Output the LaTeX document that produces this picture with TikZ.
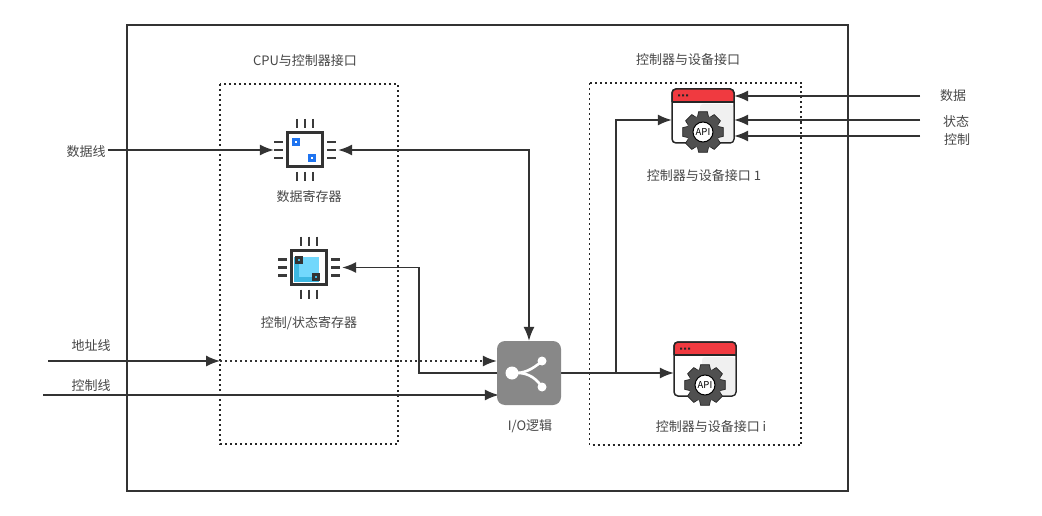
\documentclass[tikz,border=0pt]{standalone}
\usepackage{fontspec}
\setmainfont{Noto Sans CJK SC}
\usetikzlibrary{arrows.meta,calc}
\definecolor{ink}{HTML}{333333}
\definecolor{pin}{HTML}{3A3A3A}
\definecolor{ioGrey}{HTML}{888888}
\definecolor{winRed}{HTML}{F03A40}
\definecolor{chipBlue}{HTML}{1F74F0}
\definecolor{lightBlue}{HTML}{72D8FC}
\definecolor{midBlue}{HTML}{3DB8E2}
\definecolor{gearGrey}{HTML}{505050}
\tikzset{
  conn/.style={draw=ink,line width=1.5pt},
  tip/.style={-{Latex[length=14pt,width=11pt]}},
  bothtip/.style={{Latex[length=14pt,width=11pt]}-{Latex[length=14pt,width=11pt]}},
  revtip/.style={{Latex[length=14pt,width=11pt]}-},
  dotbox/.style={draw=black!85,line width=1.4pt,dash pattern=on 2pt off 3pt},
  dotline/.style={draw=ink,line width=1.5pt,dash pattern=on 2pt off 3pt},
  lbl/.style={inner sep=0pt,yshift=-1pt,font=\fontsize{13}{15}\selectfont,text=black!72},
  iconbox/.style={inner sep=0pt,minimum width=#1,minimum height=#1},
  pinline/.style={draw=pin,line width=2.4pt},
}
\newcommand{\chipframe}{%
  \foreach \d in {-8,0,8}{
    \draw[pinline] (\d,-31) -- (\d,-22);
    \draw[pinline] (\d,22) -- (\d,31);
    \draw[pinline] (-31,\d) -- (-22,\d);
    \draw[pinline] (22,\d) -- (31,\d);
  }
}
\newcommand{\geartooth}[3]{%
  \begin{scope}[shift={(#1,#2)},scale=#3]
    \foreach \a in {0,45,...,315}{
      \fill[gearGrey,draw=black!85,line width=.7pt,rotate=\a,line join=round] (-6,-13) -- (-4.4,-20.3) -- (4.4,-20.3) -- (6,-13) -- cycle;
    }
    \fill[gearGrey] (0,0) circle (16.5);
    \fill[white,draw=black,line width=1pt] (0,0) circle (10);
    \node[inner sep=0pt,text=black,font=\fontsize{9.5}{10}\selectfont] at (0,0) {API};
  \end{scope}
}
\newcommand{\windowicon}[2]{%
  \begin{scope}[shift={(#1,#2)}]
    \draw[fill=white,draw=black!85,line width=1.5pt,rounded corners=4pt] (-31,-27) rectangle (31,27);
    \fill[black!6,rounded corners=3pt] (-3,-12) -- (30,-12) -- (30,26) -- (-3,26) -- cycle;
    \fill[winRed,rounded corners=4pt] (-31,-27) -- (31,-27) -- (31,-14) -- (-31,-14) -- cycle;
    \draw[black!85,line width=1.5pt,rounded corners=4pt] (-31,-14) -- (-31,-27) -- (31,-27) -- (31,-14);
    \draw[black!85,line width=1.5pt] (-31,-14) -- (31,-14);
    \fill[black!85] (-25,-21.5) rectangle (-23,-19.5) (-21,-21.5) rectangle (-19,-19.5) (-17,-21.5) rectangle (-15,-19.5);
    \geartooth{0}{16}{1}
  \end{scope}
}
\begin{document}
\begin{tikzpicture}[x=1pt,y=-1pt]
\useasboundingbox (0,0) rectangle (1042,516);
\fill[white] (0,0) rectangle (1042,516);

% frames
\draw[draw=ink,line width=1.5pt] (127,25) rectangle (848,491);
\draw[dotbox] (220,84) rectangle (398,444);
\draw[dotbox] (589.5,83) rectangle (801,445);

% icon nodes
\node[iconbox=66pt] (chipA) at (305,150) {};
\node[iconbox=66pt] (chipB) at (309,267.5) {};
\node[inner sep=0pt,minimum width=62pt,minimum height=54pt] (winA) at (703,116) {};
\node[inner sep=0pt,minimum width=62pt,minimum height=54pt] (winB) at (705,369) {};
\node[inner sep=0pt,minimum width=64pt,minimum height=64pt] (io) at (529,373) {};

% labels
\node[lbl] (tCpu) at (305,60) {CPU与控制器接口};
\node[lbl] (tDev) at (688,59) {控制器与设备接口};
\node[lbl] (lData) at (86,151) {数据线};
\node[lbl] (lAddr) at (91,345) {地址线};
\node[lbl] (lCtrl) at (91,385) {控制线};
\node[lbl] (rData) at (953,95) {数据};
\node[lbl] (rStat) at (956,121) {状态};
\node[lbl] (rCtrl) at (957,139) {控制};
\node[lbl] (tRegA) at (309,196) {数据寄存器};
\node[lbl] (tRegB) at (309,322) {控制/状态寄存器};
\node[lbl] (tIO) at (530,425) {I/O逻辑};
\node[lbl] (tWinA) at (704,175) {控制器与设备接口 1};
\node[lbl] (tWinB) at (711,426) {控制器与设备接口 i};

% free ends
\coordinate (addrStart) at (48,361);
\coordinate (ctrlStart) at (43,395);
\coordinate (addrMid) at (220,361);
\coordinate (dataIn) at (920,96);
\coordinate (statIn) at (920,120);
\coordinate (ctrlIn) at (920,136);
\coordinate (fork) at (616,373);

% connectors
\draw[conn,tip] (lData.east) ++(2,-2) -- ($(chipA.west)+(2,0)$);
\draw[conn,bothtip] (chipA.east) -- (529,150) -- (io.north);
\draw[conn,revtip] (chipB.east) -- (419,267.5) -- (419,373) -- (io.west);
\draw[dotline] (addrMid) -- ($(io.west)+(-14,-12)$);
\draw[conn,tip] (addrStart) -- (addrMid);
\draw[conn,tip] ($(io.west)+(-14,-12)$) -- ($(io.west)+(0,-12)$);
\draw[conn,tip] (ctrlStart) -- ($(io.west)+(2,22)$);
\draw[conn,tip] (io.east) -- (winB.west |- io.east) ;
\draw[conn,tip] (fork) -- (616,120) -- (winA.west |- 0,120);
\draw[conn,tip] (dataIn) -- (winA.east |- dataIn);
\draw[conn,tip] (statIn) -- (winA.east |- statIn);
\draw[conn,tip] (ctrlIn) -- (winA.east |- ctrlIn);

% chip A
\begin{scope}[shift={(305,150)}]
  \chipframe
  \fill[white] (-19,-18) rectangle (19,18);
  \draw[draw=ink,line width=3pt] (-17.5,-17) rectangle (17.5,17);
  \fill[chipBlue] (-13.5,-11.5) rectangle (-5,-3.5);
  \fill[chipBlue] (3,4.5) rectangle (11,12.5);
  \fill[white] (-10,-8.5) rectangle (-8,-6.5);
  \fill[white] (6,7.5) rectangle (8,9.5);
\end{scope}

% chip B
\begin{scope}[shift={(309,267.5)}]
  \chipframe
  \fill[white] (-19,-18) rectangle (19,18);
  \fill[midBlue] (-15,-11) rectangle (10,14);
  \fill[lightBlue] (-10,-11) rectangle (10,9.5);
  \draw[draw=ink,line width=3pt] (-17.5,-17) rectangle (17.5,17);
  \fill[ink] (-14.5,-11.5) rectangle (-6,-3.5);
  \fill[ink] (3,5) rectangle (11,13.5);
  \fill[midBlue] (-11.5,-8.5) rectangle (-9,-6.5);
  \fill[midBlue] (6,8) rectangle (8,10);
\end{scope}

% windows
\windowicon{703}{116}
\windowicon{705}{369}

% I/O
\fill[ioGrey,rounded corners=8pt] (497,341) rectangle (561,405);
\begin{scope}[shift={(529,373)}]
  \fill[white] (-17,0) circle (6.5);
  \fill[white] (13,-12) circle (4.5);
  \fill[white] (13,14) circle (4.5);
  \draw[white,line width=2.6pt] (-17,0) .. controls (-5,1) and (4,-4) .. (13,-12);
  \draw[white,line width=2.6pt] (-17,0) .. controls (-5,-1) and (5,2) .. (13,14);
\end{scope}
\end{tikzpicture}
\end{document}
